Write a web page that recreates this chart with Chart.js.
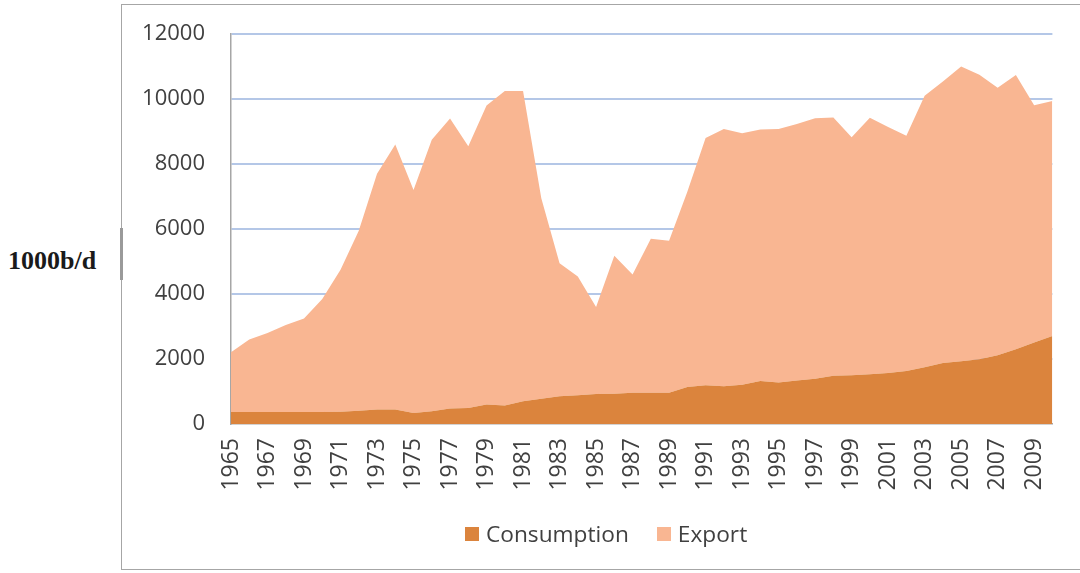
<!DOCTYPE html>
<html>
<head>
<meta charset="utf-8">
<script src="https://cdn.jsdelivr.net/npm/chart.js@4/dist/chart.umd.min.js"></script>
<style>
  html, body { margin: 0; padding: 0; background: #fff; overflow: hidden; }
  body { width: 1080px; height: 573px; position: relative; font-family: 'Open Sans', sans-serif; }
  .frame { position: absolute; left: 121px; top: 4px; width: 1000px; height: 566px; border: 1.5px solid #a6a6a6; box-sizing: border-box; }
  .notch { position: absolute; left: 120px; top: 228px; width: 3px; height: 52px; background: #9a9a9a; }
  .unit { position: absolute; left: 8px; top: 246px; font: bold 26px 'Liberation Serif', serif; color: #1a1a1a; }
  .wrap { position: absolute; left: 122px; top: 6px; width: 964px; height: 564px; }
  .legend { position: absolute; left: 465px; top: 518px; display: flex; align-items: center; font-size: 22.7px; color: #404040; }
  .legend .item { display: flex; align-items: center; margin-right: 28px; }
  .legend .box { width: 14px; height: 14px; margin-right: 7px; }
</style>
</head>
<body>
<div class="frame"></div>
<div class="notch"></div>
<div class="unit">1000b/d</div>
<div class="wrap"><canvas id="chart"></canvas></div>
<div class="legend" id="legend"></div>
<script>
/* ── data (1000 b/d) ── */
const years = [
  1965, 1966, 1967, 1968, 1969, 1970, 1971, 1972, 1973, 1974,
  1975, 1976, 1977, 1978, 1979, 1980, 1981, 1982, 1983, 1984,
  1985, 1986, 1987, 1988, 1989, 1990, 1991, 1992, 1993, 1994,
  1995, 1996, 1997, 1998, 1999, 2000, 2001, 2002, 2003, 2004,
  2005, 2006, 2007, 2008, 2009, 2010
];

const consumption = [
  370, 370, 370, 370, 370, 370, 375, 410, 445, 445,
  340, 390, 475, 495, 600, 570, 700, 775, 855, 885,
  925, 930, 960, 960, 960, 1135, 1195, 1165, 1210, 1320,
  1280, 1340, 1390, 1485, 1500, 1530, 1570, 1630, 1750, 1875,
  1930, 1990, 2115, 2300, 2505, 2710
];

const exportVol = [
  1840, 2230, 2430, 2680, 2880, 3480, 4375, 5540, 7255, 8155,
  6860, 8360, 8925, 8055, 9200, 9680, 9550, 6175, 4095, 3655,
  2675, 4250, 3640, 4740, 4680, 6015, 7605, 7915, 7740, 7740,
  7800, 7890, 8020, 7945, 7320, 7890, 7570, 7240, 8350, 8665,
  9070, 8760, 8235, 8440, 7305, 7230
];

const yTicks = { min: 0, max: 12000, step: 2000 };

const COLORS = {
  consumption: '#db843d',
  export:      '#f9b692',
  grid:        '#b4c7e7',
  axis:        '#a6a6a6',
  text:        '#404040',
};

const series = [
  { label: 'Consumption', data: consumption, color: COLORS.consumption, fill: 'origin' },
  { label: 'Export',      data: exportVol,   color: COLORS.export,      fill: '-1' },
];

/* ── chart ── */
new Chart(document.getElementById('chart'), {
  type: 'line',
  data: {
    labels: years.map(String),
    datasets: series.map(s => ({
      label: s.label,
      data: s.data,
      fill: s.fill,
      backgroundColor: s.color,
      borderColor: s.color,
      borderWidth: 0,
      pointRadius: 0,
      tension: 0,
    })),
  },
  options: {
    responsive: true,
    maintainAspectRatio: false,
    animation: false,
    layout: { padding: { top: 28, right: 27, left: 0, bottom: 0 } },
    plugins: { legend: { display: false }, tooltip: { enabled: false } },
    scales: {
      x: {
        grid: { display: false, tickLength: 8 },
        border: { color: COLORS.axis, width: 1.5 },
        ticks: {
          autoSkip: false, minRotation: 90, maxRotation: 90, padding: 6,
          color: COLORS.text, font: { family: "'Open Sans', sans-serif", size: 23 },
          callback: (v, i) => (i % 2 === 0 ? years[i] : ''),
        },
        afterFit: s => { s.height = 146; },
      },
      y: {
        stacked: true,
        min: yTicks.min, max: yTicks.max,
        grid: {
          lineWidth: 2, tickLength: 26, tickColor: 'rgba(0,0,0,0)',
          color: ctx => (ctx.tick && ctx.tick.value === 0 ? 'rgba(0,0,0,0)' : COLORS.grid),
        },
        border: { color: COLORS.axis, width: 1.5 },
        ticks: {
          stepSize: yTicks.step, padding: 0,
          color: COLORS.text, font: { family: "'Open Sans', sans-serif", size: 22 },
          callback: v => String(v),
        },
        afterFit: s => { s.width = 109; },
      },
    },
  },
});

/* ── legend ── */
const legendEl = document.getElementById('legend');
series.forEach(s => {
  legendEl.innerHTML += `
    <div class="item"><span class="box" style="background:${s.color}"></span>${s.label}</div>`;
});
</script>
</body>
</html>
